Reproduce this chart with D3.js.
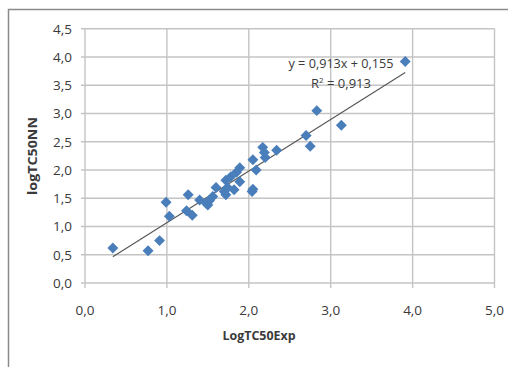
<!DOCTYPE html>
<html>
<head>
<meta charset="utf-8">
<script src="https://cdn.jsdelivr.net/npm/d3@7"></script>
<style>
  html, body { margin: 0; padding: 0; background: #fff; }
  svg { display: block; }
  text { font-family: "Open Sans", "Noto Sans", sans-serif; fill: #3a3a3a; }
</style>
</head>
<body>
<script>
// Experimental vs. predicted log TC50 values
const logExp = [0.34, 0.77, 0.91, 0.99, 1.03, 1.26, 1.24, 1.31, 1.40, 1.48,
                1.50, 1.52, 1.56, 1.60, 1.70, 1.72, 1.74, 1.72, 1.78, 1.82,
                1.85, 1.89, 1.89, 2.04, 2.05, 2.05, 2.09, 2.17, 2.19, 2.20,
                2.34, 2.70, 2.75, 2.83, 3.13, 3.91];
const logNN  = [0.62, 0.57, 0.75, 1.43, 1.18, 1.56, 1.28, 1.20, 1.47, 1.41,
                1.38, 1.46, 1.53, 1.69, 1.62, 1.56, 1.69, 1.82, 1.88, 1.65,
                1.96, 2.04, 1.79, 1.62, 1.66, 2.18, 2.00, 2.40, 2.31, 2.22,
                2.35, 2.61, 2.42, 3.05, 2.79, 3.92];
const xTicks = [0, 1, 2, 3, 4, 5];
const yTicks = [0, 0.5, 1, 1.5, 2, 2.5, 3, 3.5, 4, 4.5];
const slope = 0.913, intercept = 0.155, r2 = 0.913;

const W = 508, H = 367;
const fmt = v => d3.format(".1f")(v).replace(".", ",");
const fmt3 = v => d3.format(".3f")(v).replace(".", ",");

const svg = d3.select("body").append("svg").attr("width", W).attr("height", H);

// chart frame (top and left edges)
svg.append("path")
  .attr("d", "M8.5,367 V9.5 H508")
  .attr("fill", "none").attr("stroke", "#8a8a8a").attr("stroke-width", 1.5);

const x = d3.scaleLinear().domain([0, 5]).range([85, 494.5]);
const y = d3.scaleLinear().domain([0, 4.5]).range([283, 28.7]);

// gridlines + ticks
const grid = svg.append("g").attr("stroke", "#c4c4c4").attr("stroke-width", 1.4);
grid.selectAll(".gx").data(xTicks).join("line")
  .attr("x1", d => x(d)).attr("x2", d => x(d))
  .attr("y1", y(4.5)).attr("y2", y(0) + 5);
grid.selectAll(".gy").data(yTicks).join("line")
  .attr("x1", x(0) - 4).attr("x2", x(5))
  .attr("y1", d => y(d)).attr("y2", d => y(d));

// tick labels
svg.append("g").selectAll("text").data(yTicks).join("text")
  .attr("x", 72).attr("y", d => y(d)).attr("dy", "0.36em")
  .attr("text-anchor", "end").attr("font-size", 13.5)
  .text(fmt);
svg.append("g").selectAll("text").data(xTicks).join("text")
  .attr("x", d => x(d)).attr("y", 315)
  .attr("text-anchor", "middle").attr("font-size", 13.5)
  .text(fmt);

// axis titles
svg.append("text")
  .attr("x", 259).attr("y", 340).attr("text-anchor", "middle")
  .attr("font-size", 12.5).attr("font-weight", "bold").attr("fill", "#222")
  .attr("textLength", 73).attr("lengthAdjust", "spacingAndGlyphs")
  .text("LogTC50Exp");
svg.append("text")
  .attr("transform", "translate(37,156) rotate(-90)")
  .attr("text-anchor", "middle")
  .attr("font-size", 12.5).attr("font-weight", "bold").attr("fill", "#222")
  .attr("textLength", 78).attr("lengthAdjust", "spacingAndGlyphs")
  .text("logTC50NN");

// linear trend line over the data range
const xr = d3.extent(logExp);
svg.append("line")
  .attr("x1", x(xr[0])).attr("y1", y(slope * xr[0] + intercept))
  .attr("x2", x(xr[1])).attr("y2", y(slope * xr[1] + intercept))
  .attr("stroke", "#555").attr("stroke-width", 1.1);

// data points (diamonds)
const diamond = d3.symbol().type(d3.symbolSquare).size(60);
svg.append("g").selectAll("path").data(logExp).join("path")
  .attr("d", diamond)
  .attr("transform", (d, i) => `translate(${x(d)},${y(logNN[i])}) rotate(45)`)
  .attr("fill", "#4a7ebb");

// trend line equation
svg.append("text")
  .attr("x", 341).attr("y", 68).attr("text-anchor", "middle")
  .attr("font-size", 13).attr("fill", "#333")
  .attr("textLength", 105).attr("lengthAdjust", "spacingAndGlyphs")
  .text(`y = ${fmt3(slope)}x + ${fmt3(intercept)}`);
const r = svg.append("text")
  .attr("x", 341).attr("y", 88).attr("text-anchor", "middle")
  .attr("font-size", 13).attr("fill", "#333");
r.append("tspan").text("R");
r.append("tspan").attr("dy", -5).attr("font-size", 8).text("2");
r.append("tspan").attr("dy", 5).text(` = ${fmt3(r2)}`);
</script>
</body>
</html>
